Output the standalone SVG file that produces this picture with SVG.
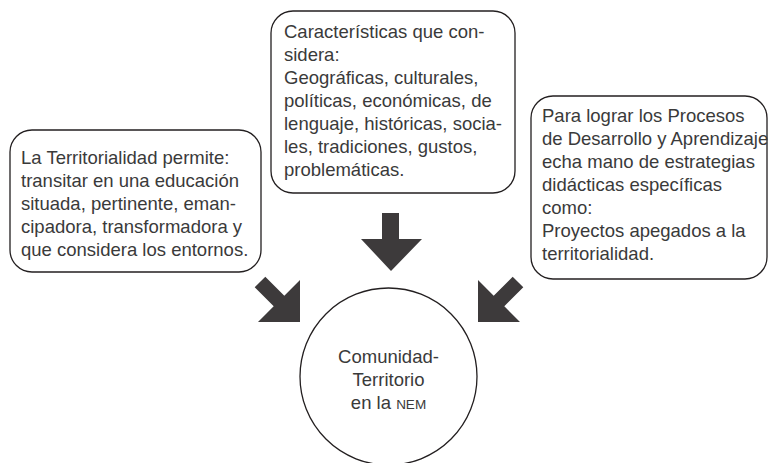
<svg xmlns="http://www.w3.org/2000/svg" width="769" height="463" viewBox="0 0 769 463">
<style>
.box{fill:#fff;stroke:#231f20;stroke-width:1.3}
.t{font-family:"Liberation Sans",Arial,sans-serif;font-size:18.5px;fill:#3a3a3a}
.arr{fill:#3d3a3b}
</style>
<rect width="769" height="463" fill="#fff"/>
<g id="node-left">
<rect class="box" x="10" y="130" width="251" height="142" rx="22"/>
<text class="t" x="21" y="164">La Territorialidad permite:</text>
<text class="t" x="21" y="187">transitar en una educación</text>
<text class="t" x="21" y="210">situada, pertinente, eman-</text>
<text class="t" x="21" y="233">cipadora, transformadora y</text>
<text class="t" x="21" y="256">que considera los entornos.</text>
</g>
<g id="node-top">
<rect class="box" x="271" y="11" width="244" height="182" rx="22"/>
<text class="t" x="284" y="38">Características que con-</text>
<text class="t" x="284" y="61">sidera:</text>
<text class="t" x="284" y="84">Geográficas, culturales,</text>
<text class="t" x="284" y="107">políticas, económicas, de</text>
<text class="t" x="284" y="130">lenguaje, históricas, socia-</text>
<text class="t" x="284" y="153">les, tradiciones, gustos,</text>
<text class="t" x="284" y="176">problemáticas.</text>
</g>
<g id="node-right">
<rect class="box" x="531" y="96" width="236" height="183" rx="22"/>
<text class="t" x="542" y="122">Para lograr los Procesos</text>
<text class="t" x="542" y="145">de Desarrollo y Aprendizaje</text>
<text class="t" x="542" y="168">echa mano de estrategias</text>
<text class="t" x="542" y="191">didácticas específicas</text>
<text class="t" x="542" y="214">como:</text>
<text class="t" x="542" y="237">Proyectos apegados a la</text>
<text class="t" x="542" y="260">territorialidad.</text>
</g>
<g id="node-center">
<circle class="box" cx="388.5" cy="376.5" r="88.5"/>
<text class="t" x="388.5" y="363" text-anchor="middle">Comunidad-</text>
<text class="t" x="388.5" y="386" text-anchor="middle">Territorio</text>
<text class="t" x="388.5" y="409" text-anchor="middle">en la <tspan font-size="13.5">NEM</tspan></text>
</g>
<g id="connectors">
<polygon class="arr" points="382,213 399,213 399,239 422,239 391,271 361,239 382,239"/>
<polygon class="arr" points="265.3,276.7 284.3,295.7 300,280 300,322 258,322 273.7,306.3 254.7,287.3"/>
<polygon class="arr" points="512.7,276.7 493.7,295.7 478,280 478,322 520,322 504.3,306.3 523.3,287.3"/>
</g>
</svg>
